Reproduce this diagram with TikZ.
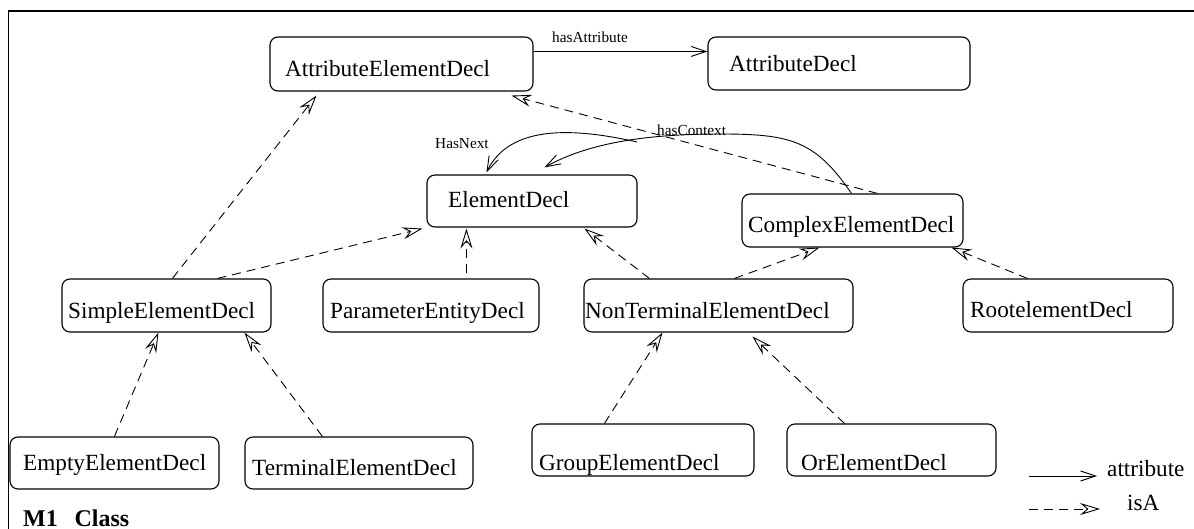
\documentclass[tikz,border=0pt]{standalone}
\usepackage{fontspec}
\setmainfont{Liberation Serif}
\usetikzlibrary{arrows.meta}
\tikzset{
  box/.style={draw, rounded corners=8pt, line width=1.1pt, inner sep=0pt},
  lbl/.style={anchor=base west, inner sep=0pt, font=\fontsize{23.2}{27}\selectfont},
  small/.style={anchor=base west, inner sep=0pt, font=\fontsize{15.3}{18}\selectfont},
  attr/.style={line width=0.9pt, -{Straight Barb[length=15pt,width=10pt,line width=0.9pt]}},
  isa/.style={line width=0.9pt, dash pattern=on 9pt off 6pt, -{Stealth[open,length=20pt,width=12pt,inset=7pt,line width=0.9pt]}}
}
\begin{document}
\begin{tikzpicture}[x=1pt,y=-1pt]
\useasboundingbox (0,0) rectangle (1194,529);
% frame
\draw[line width=1pt] (8,529) -- (8,11);
\draw[line width=1.6pt] (8,11) -- (1194,11);

% boxes
\node[box, minimum width=263pt, minimum height=54pt] (aed) at (401.5,64) {};
\node[box, minimum width=262pt, minimum height=53pt] (ad) at (839,63.5) {};
\node[box, minimum width=210pt, minimum height=52pt] (ed) at (532,201) {};
\node[box, minimum width=221pt, minimum height=53pt] (ced) at (852.5,220.5) {};
\node[box, minimum width=209pt, minimum height=53pt] (sed) at (166.5,305.5) {};
\node[box, minimum width=216pt, minimum height=53pt] (ped) at (431,305.5) {};
\node[box, minimum width=269pt, minimum height=53pt] (nted) at (718.5,305.5) {};
\node[box, minimum width=210pt, minimum height=53pt] (red) at (1068,305.5) {};
\node[box, minimum width=209pt, minimum height=52pt] (eed) at (114.5,463) {};
\node[box, minimum width=228pt, minimum height=52pt] (ted) at (359,463) {};
\node[box, minimum width=222pt, minimum height=52pt] (ged) at (643,450) {};
\node[box, minimum width=209pt, minimum height=52pt] (oed) at (891.5,450) {};

% box texts
\node[lbl] (aedt) at (285,77) {AttributeElementDecl};
\node[lbl] (adt) at (729,72) {AttributeDecl};
\node[lbl] (edt) at (448,208) {ElementDecl};
\node[lbl] (cedt) at (748,233) {ComplexElementDecl};
\node[lbl] (sedt) at (68,319) {SimpleElementDecl};
\node[lbl] (pedt) at (330,319) {ParameterEntityDecl};
\node[lbl] (ntedt) at (585,319) {NonTerminalElementDecl};
\node[lbl] (redt) at (970,318) {RootelementDecl};
\node[lbl] (eedt) at (23,470) {EmptyElementDecl};
\node[lbl] (tedt) at (252,475) {TerminalElementDecl};
\node[lbl] (gedt) at (539,470) {GroupElementDecl};
\node[lbl] (oedt) at (801,470) {OrElementDecl};

% attribute connectors
\draw[attr] ([yshift=-15pt]aed.north east) -- ([yshift=-15pt]ad.north west);
\node[small] (hasattr) at (552,43) {hasAttribute};

\draw[attr] ([xshift=110pt]ced.north west)
  .. controls (815,140) and (790,134) .. (720,134)
  .. controls (650,134) and (590,142) .. ([xshift=118pt,yshift=7pt]ed.north west);
\node[small] (hasctx) at (657,136) {hasContext};

\coordinate (hnstart) at (637,142);
\draw[attr] (hnstart) .. controls (575,128) and (510,124) .. ([xshift=60pt,yshift=2pt]ed.north west);
\node[small] (hasnext) at (435,149) {HasNext};

% isA connectors
\draw[isa] ([xshift=136pt]ced.north west) -- ([xshift=242pt,yshift=-4pt]aed.south west);
\draw[isa] ([xshift=111pt]sed.north west) -- ([xshift=47pt,yshift=-4pt]aed.south west);
\draw[isa] ([xshift=156pt]sed.north west) -- ([xshift=-4pt,yshift=-1pt]ed.south west);
\draw[isa] ([xshift=144pt,yshift=5pt]ped.north west) -- ([xshift=40pt,yshift=-1pt]ed.south west);
\draw[isa] ([xshift=66pt]nted.north west) -- ([xshift=158pt,yshift=-1pt]ed.south west);
\draw[isa] ([xshift=151pt]nted.north west) -- ([xshift=78pt]ced.south west);
\draw[isa] ([xshift=65pt]red.north west) -- ([xshift=210pt]ced.south west);
\draw[isa] ([xshift=105pt]eed.north west) -- ([xshift=97pt]sed.south west);
\draw[isa] ([xshift=78pt]ted.north west) -- ([xshift=183pt]sed.south west);
\draw[isa] ([xshift=73pt]ged.north west) -- ([xshift=79pt]nted.south west);
\draw[isa] ([xshift=58pt]oed.north west) -- ([xshift=169pt,yshift=-4pt]nted.south west);

% legend
\coordinate (la1) at (1029,476);
\coordinate (la2) at (1097,476);
\coordinate (lb1) at (1029,509);
\coordinate (lb2) at (1100,509);
\draw[attr] (la1) -- (la2);
\draw[isa] (lb1) -- (lb2);
\node[lbl] (legattr) at (1107,476) {attribute};
\node[lbl] (legisa) at (1127,510) {isA};

% title
\node[lbl, font=\fontsize{24}{28}\selectfont\bfseries] (title) at (23,526) {M1\hspace{0.7em}Class};
\end{tikzpicture}
\end{document}
